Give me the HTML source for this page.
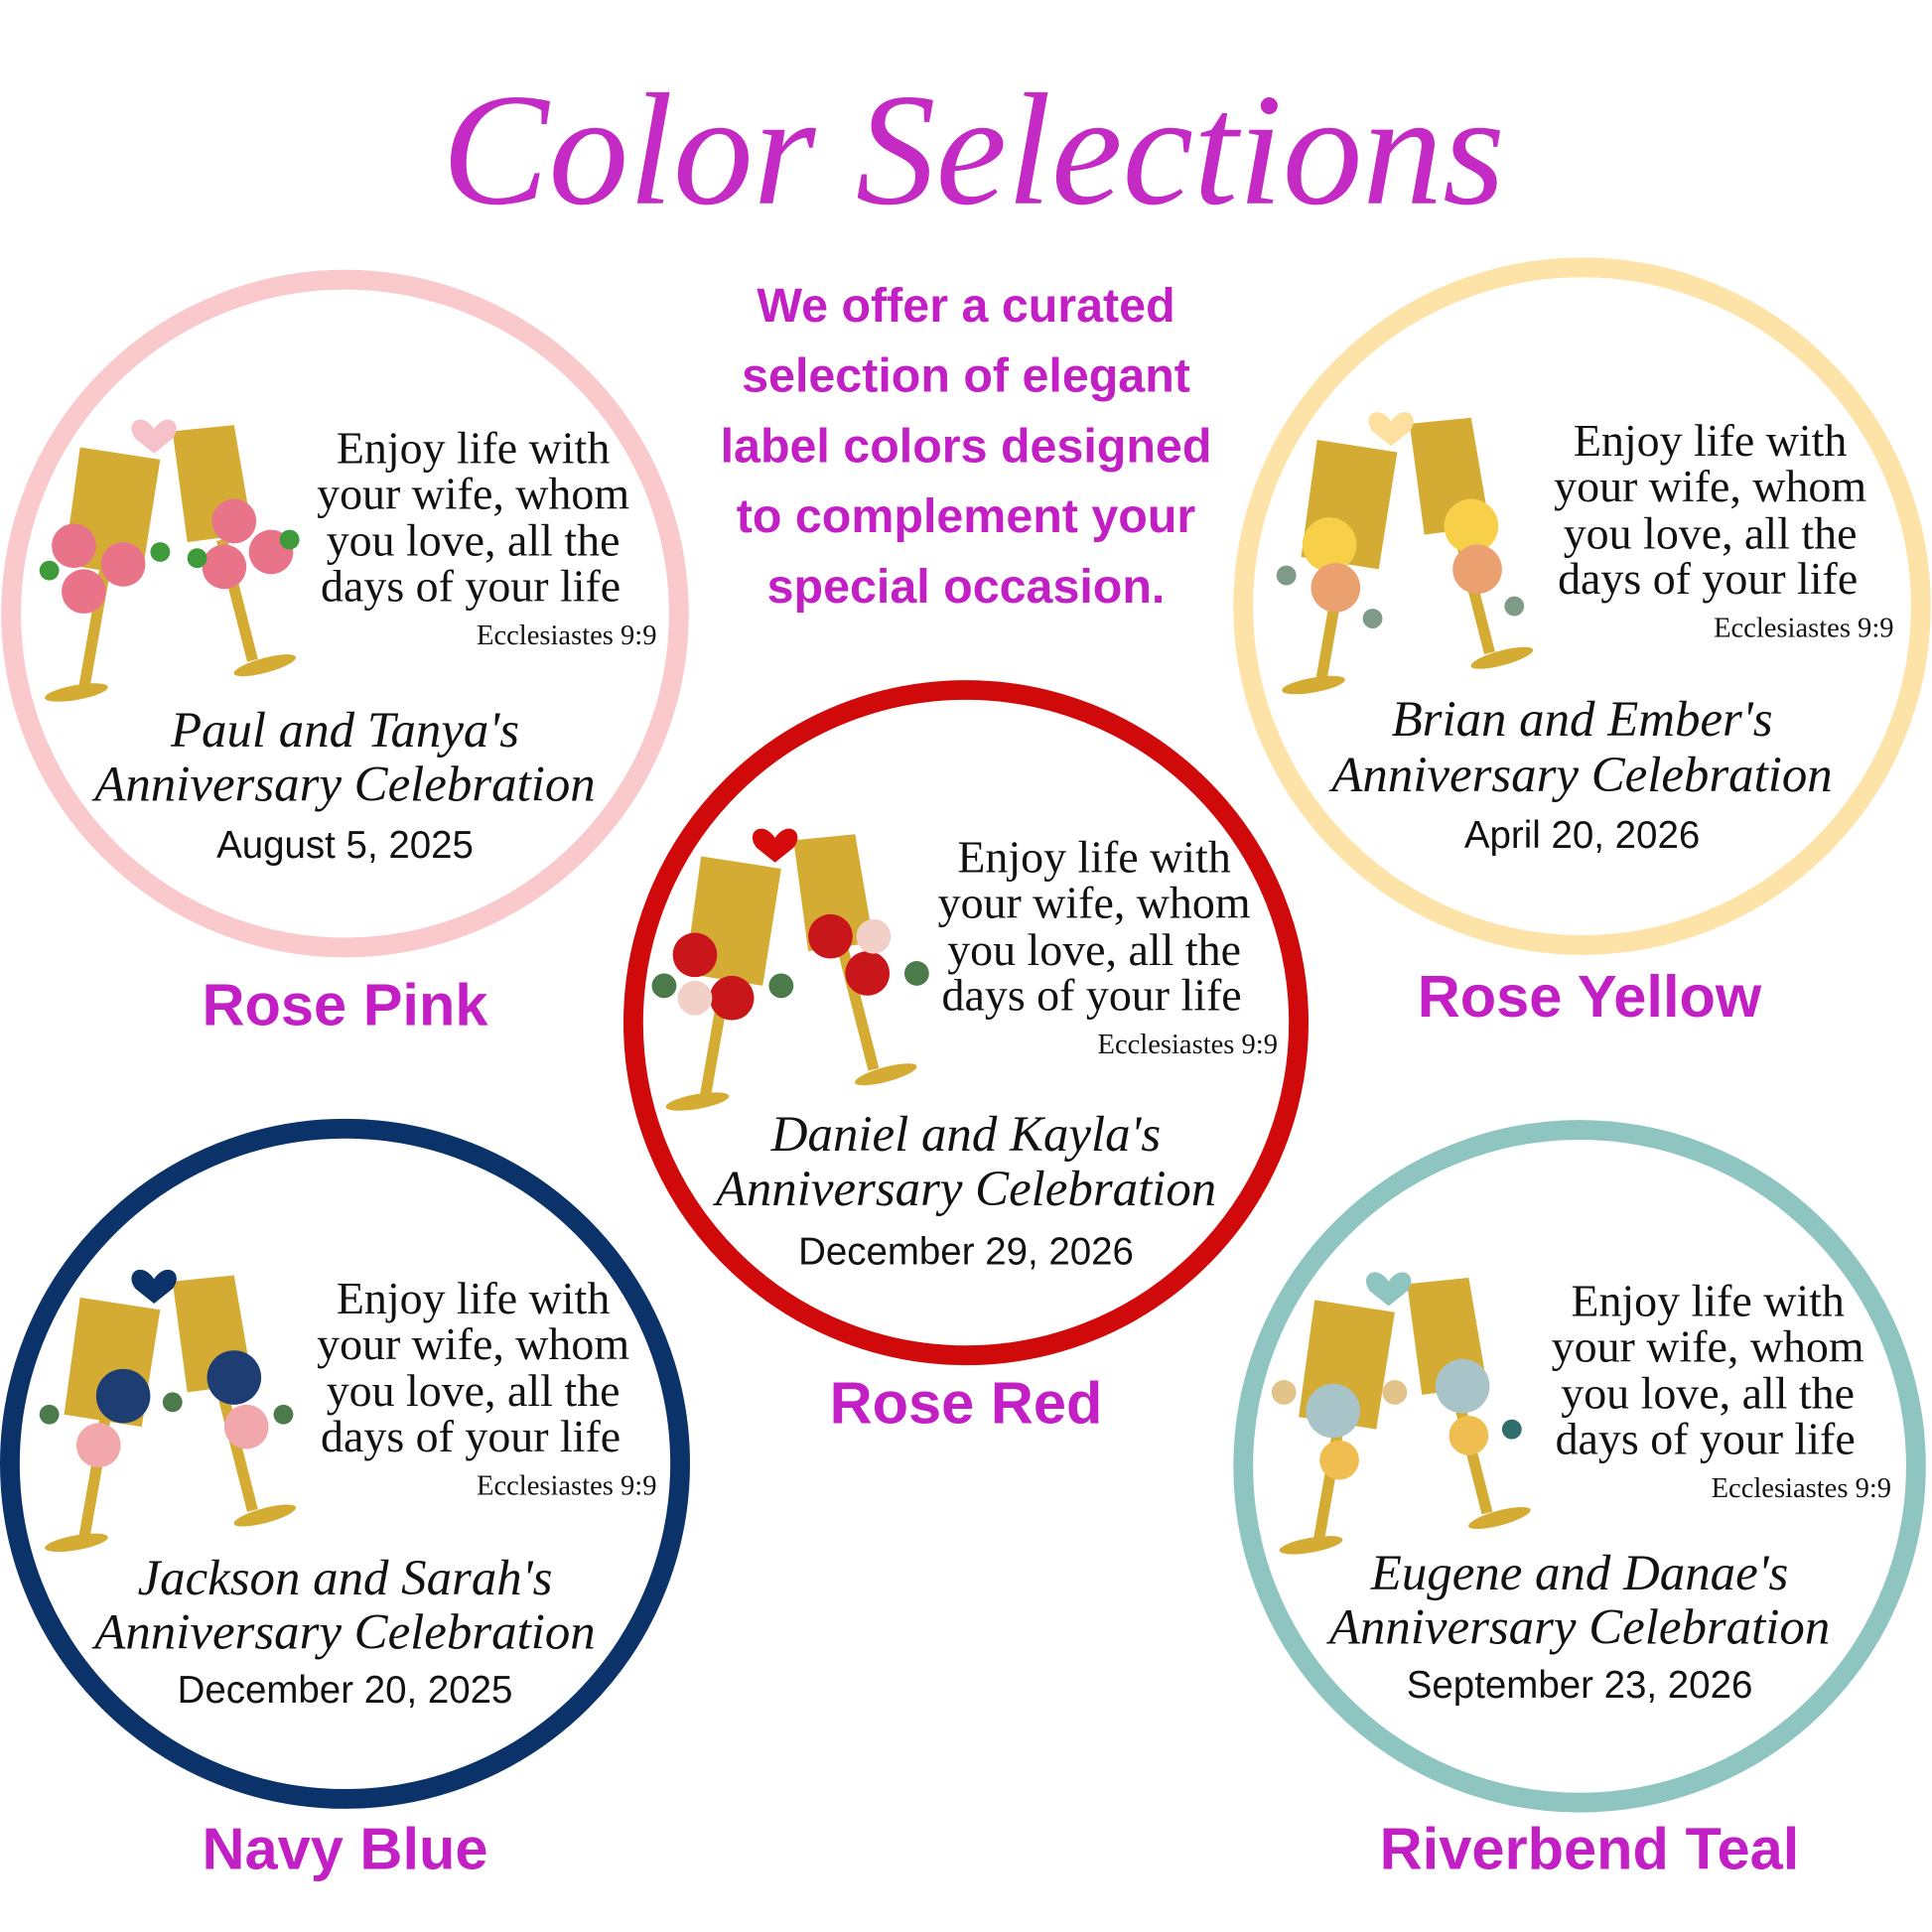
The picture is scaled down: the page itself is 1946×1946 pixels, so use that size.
<!DOCTYPE html>
<html><head><meta charset="utf-8">
<style>
html,body{margin:0;padding:0;background:#fff;}
svg{display:block;}
.q{font-family:"Liberation Serif",serif;font-size:37px;fill:#111;}
.ec{font-family:"Liberation Serif",serif;font-size:23px;fill:#111;}
.nm{font-family:"Liberation Serif",serif;font-style:italic;font-size:41px;fill:#111;}
.dt{font-family:"Liberation Sans",sans-serif;font-size:31px;fill:#111;}
.lbl{font-family:"Liberation Sans",sans-serif;font-weight:bold;font-size:48px;fill:#c21fc4;}
.par{font-family:"Liberation Sans",sans-serif;font-weight:bold;font-size:39px;fill:#c21fc4;}
</style></head><body>
<svg width="1946" height="1946" viewBox="0 0 1568 1568" xmlns="http://www.w3.org/2000/svg">
<defs>
<g id="glasses">
  <polygon points="-215,-135 -150,-125 -165,-30 -228,-40" fill="#d4ac33"/>
  <line x1="-195" y1="-35" x2="-212" y2="62" stroke="#d4ac33" stroke-width="9"/>
  <ellipse cx="-218" cy="64" rx="26" ry="6" fill="#d4ac33" transform="rotate(-10 -218 64)"/>
  <polygon points="-140,-148 -90,-153 -75,-65 -128,-58" fill="#d4ac33"/>
  <line x1="-100" y1="-60" x2="-75" y2="38" stroke="#d4ac33" stroke-width="9"/>
  <ellipse cx="-65" cy="42" rx="26" ry="6" fill="#d4ac33" transform="rotate(-15 -65 42)"/>
</g>
<g id="txt">
  <text class="q" x="104" y="-122" text-anchor="middle">Enjoy life with</text>
  <text class="q" x="104" y="-85" text-anchor="middle">your wife, whom</text>
  <text class="q" x="104" y="-47" text-anchor="middle">you love, all the</text>
  <text class="q" x="102" y="-10" text-anchor="middle">days of your life</text>
  <text class="ec" x="253" y="25" text-anchor="end">Ecclesiastes 9:9</text>
</g>
</defs>

<text x="790" y="165" text-anchor="middle" font-family="Liberation Serif,serif" font-style="italic" font-size="130" fill="#c42ac4">Color Selections</text>

<g text-anchor="middle">
<text class="par" x="784" y="261">We offer a curated</text>
<text class="par" x="784" y="318">selection of elegant</text>
<text class="par" x="784" y="375">label colors designed</text>
<text class="par" x="784" y="432">to complement your</text>
<text class="par" x="784" y="489">special occasion.</text>
</g>

<g transform="translate(280,498)">
  <circle r="271" fill="#fff" stroke="#f9c9cc" stroke-width="16"/>
  <use href="#glasses"/>
  <path d="M-155,-150 c-10,-15 -25,-5 -15,8 l15,12 l15,-12 c10,-13 -5,-23 -15,-8z" fill="#f7c1c9"/>
  <circle cx="-220" cy="-55" r="18" fill="#e9748a"/><circle cx="-180" cy="-40" r="18" fill="#e9748a"/><circle cx="-212" cy="-18" r="18" fill="#e9748a"/>
  <circle cx="-90" cy="-75" r="18" fill="#e9748a"/><circle cx="-60" cy="-50" r="18" fill="#e9748a"/><circle cx="-98" cy="-38" r="18" fill="#e9748a"/>
  <circle cx="-240" cy="-35" r="8" fill="#3f9a3a"/><circle cx="-150" cy="-50" r="8" fill="#3f9a3a"/><circle cx="-120" cy="-45" r="8" fill="#3f9a3a"/><circle cx="-45" cy="-60" r="8" fill="#3f9a3a"/>
  <use href="#txt"/>
  <text class="nm" x="0" y="108" text-anchor="middle">Paul and Tanya's</text>
  <text class="nm" x="0" y="152" text-anchor="middle">Anniversary Celebration</text>
  <text class="dt" x="0" y="198" text-anchor="middle">August 5, 2025</text>
</g>
<text class="lbl" x="280" y="832" text-anchor="middle">Rose Pink</text>

<g transform="translate(1284,492)">
  <circle r="275" fill="#fff" stroke="#fde3a7" stroke-width="16"/>
  <use href="#glasses"/>
  <path d="M-155,-150 c-10,-15 -25,-5 -15,8 l15,12 l15,-12 c10,-13 -5,-23 -15,-8z" fill="#fde0a0"/>
  <circle cx="-205" cy="-50" r="22" fill="#f7cf48"/><circle cx="-200" cy="-15" r="20" fill="#eba070"/>
  <circle cx="-90" cy="-65" r="22" fill="#f7cf48"/><circle cx="-85" cy="-30" r="20" fill="#eba070"/>
  <circle cx="-240" cy="-25" r="8" fill="#7f9a86"/><circle cx="-170" cy="10" r="8" fill="#7f9a86"/><circle cx="-55" cy="0" r="8" fill="#7f9a86"/>
  <use href="#txt"/>
  <text class="nm" x="0" y="105" text-anchor="middle">Brian and Ember's</text>
  <text class="nm" x="0" y="150" text-anchor="middle">Anniversary Celebration</text>
  <text class="dt" x="0" y="196" text-anchor="middle">April 20, 2026</text>
</g>
<text class="lbl" x="1290" y="825" text-anchor="middle">Rose Yellow</text>

<g transform="translate(784,830)">
  <circle r="270" fill="#fff" stroke="#d00a0a" stroke-width="16"/>
  <use href="#glasses"/>
  <path d="M-155,-150 c-10,-15 -25,-5 -15,8 l15,12 l15,-12 c10,-13 -5,-23 -15,-8z" fill="#d50b0b"/>
  <circle cx="-220" cy="-55" r="18" fill="#c8161b"/><circle cx="-190" cy="-20" r="18" fill="#c8161b"/><circle cx="-220" cy="-20" r="14" fill="#f2d0c8"/>
  <circle cx="-110" cy="-70" r="18" fill="#c8161b"/><circle cx="-80" cy="-40" r="18" fill="#c8161b"/><circle cx="-75" cy="-70" r="14" fill="#f2d0c8"/>
  <circle cx="-245" cy="-30" r="10" fill="#4c7a4a"/><circle cx="-150" cy="-30" r="10" fill="#4c7a4a"/><circle cx="-40" cy="-40" r="10" fill="#4c7a4a"/>
  <use href="#txt"/>
  <text class="nm" x="0" y="104" text-anchor="middle">Daniel and Kayla's</text>
  <text class="nm" x="0" y="148" text-anchor="middle">Anniversary Celebration</text>
  <text class="dt" x="0" y="196" text-anchor="middle">December 29, 2026</text>
</g>
<text class="lbl" x="784" y="1155" text-anchor="middle">Rose Red</text>

<g transform="translate(280,1188)">
  <circle r="272" fill="#fff" stroke="#0b3369" stroke-width="16"/>
  <use href="#glasses"/>
  <path d="M-155,-150 c-10,-15 -25,-5 -15,8 l15,12 l15,-12 c10,-13 -5,-23 -15,-8z" fill="#0b3369"/>
  <circle cx="-180" cy="-55" r="22" fill="#1e3d73"/><circle cx="-200" cy="-15" r="18" fill="#f2a7ad"/>
  <circle cx="-90" cy="-70" r="22" fill="#1e3d73"/><circle cx="-80" cy="-30" r="18" fill="#f2a7ad"/>
  <circle cx="-240" cy="-40" r="8" fill="#4c7a4a"/><circle cx="-140" cy="-50" r="8" fill="#4c7a4a"/><circle cx="-50" cy="-40" r="8" fill="#4c7a4a"/>
  <use href="#txt"/>
  <text class="nm" x="0" y="106" text-anchor="middle">Jackson and Sarah's</text>
  <text class="nm" x="0" y="150" text-anchor="middle">Anniversary Celebration</text>
  <text class="dt" x="0" y="194" text-anchor="middle">December 20, 2025</text>
</g>
<text class="lbl" x="280" y="1517" text-anchor="middle">Navy Blue</text>

<g transform="translate(1282,1190)">
  <circle r="273" fill="#fff" stroke="#8ec5c0" stroke-width="16"/>
  <use href="#glasses"/>
  <path d="M-155,-150 c-10,-15 -25,-5 -15,8 l15,12 l15,-12 c10,-13 -5,-23 -15,-8z" fill="#8ec5c0"/>
  <circle cx="-200" cy="-45" r="22" fill="#a9c4c8"/><circle cx="-195" cy="-5" r="16" fill="#f0be50"/>
  <circle cx="-95" cy="-65" r="22" fill="#a9c4c8"/><circle cx="-90" cy="-25" r="16" fill="#f0be50"/>
  <circle cx="-240" cy="-60" r="10" fill="#e2c48a"/><circle cx="-150" cy="-60" r="10" fill="#e2c48a"/><circle cx="-55" cy="-30" r="8" fill="#2f6e6a"/>
  <use href="#txt"/>
  <text class="nm" x="0" y="100" text-anchor="middle">Eugene and Danae's</text>
  <text class="nm" x="0" y="144" text-anchor="middle">Anniversary Celebration</text>
  <text class="dt" x="0" y="188" text-anchor="middle">September 23, 2026</text>
</g>
<text class="lbl" x="1290" y="1517" text-anchor="middle">Riverbend Teal</text>
</svg>
</body></html>
